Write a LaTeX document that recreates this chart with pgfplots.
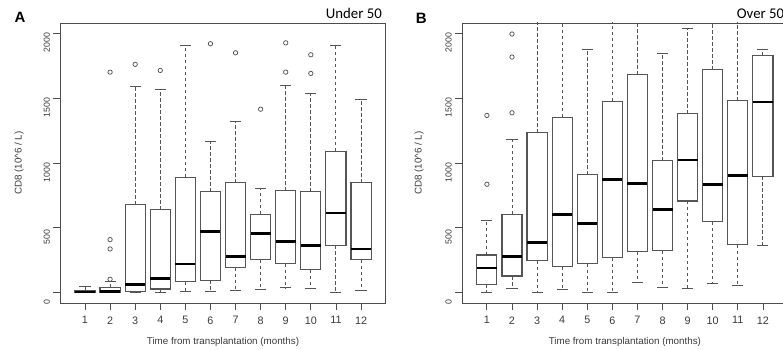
\documentclass[border=0pt]{standalone}
\usepackage{pgfplots}
\usepackage{pgfplotstable}
\pgfplotsset{compat=1.18}
\usepackage{fontspec}
\setmainfont{Liberation Sans}
\newfontfamily\calibri{Carlito}
\definecolor{boxc}{HTML}{555555}
\definecolor{txtc}{HTML}{3A3A3A}
% month, lower whisker, lower quartile, median, upper quartile, upper whisker
\pgfplotstableread{
x lw q1 med q3 uw
1 0 0 5 18 49
2 0 2 8 40 88
3 0 8 64 679 1593
4 0 28 110 641 1567
5 8 85 221 890 1904
6 12 95 471 780 1166
7 18 193 278 849 1320
8 25 255 458 605 800
9 36 224 394 785 1598
10 33 178 363 780 1534
11 0 365 615 1089 1907
12 18 255 337 847 1493
}\dataA
\pgfplotstableread{
x lw q1 med q3 uw
1 0 64 190 290 558
2 33 128 278 605 1181
3 0 247 388 1235 2400
4 23 200 605 1351 2400
5 0 224 535 911 1876
6 0 270 872 1477 2400
7 75 314 842 1680 2400
8 38 324 643 1016 1845
9 31 707 1022 1379 2035
10 69 548 834 1719 2400
11 54 370 903 1480 2400
12 365 898 1470 1830 1874
}\dataB
\pgfplotsset{
  panel/.style={
    scale only axis, width=325.2pt, height=280pt,
    xmin=0.02, xmax=12.98, ymin=-80, ymax=2080,
    xtick={1,...,12}, ytick={0,500,1000,1500,2000},
    xtick pos=bottom, ytick pos=left,
    tick align=outside, major tick length=7pt,
    tick style={black!70, line width=0.8pt},
    axis line style={black!70, line width=0.9pt},
    /pgf/number format/assume math mode=true,
    /pgf/number format/1000 sep={},
    xticklabel style={font=\fontsize{10.8}{12}\selectfont, text=txtc, yshift=-3pt},
    yticklabel style={font=\fontsize{8.8}{10}\selectfont, text=txtc, rotate=90, anchor=south, xshift=-9.5pt},
    xlabel={Time from transplantation (months)},
    ylabel={CD8 (10\^{}6 / L)},
    xlabel style={font=\fontsize{9.8}{12}\selectfont, text=txtc, at={(axis description cs:0.5,-0.138)}, anchor=center},
    ylabel style={font=\fontsize{9.8}{12}\selectfont, text=txtc, anchor=center},
  },
  hbar/.style={draw=none, mark=none, forget plot,
    error bars/.cd, x dir=both, x fixed=#1, error mark=none},
  vbar/.style={draw=none, mark=none, forget plot,
    error bars/.cd, y dir=#1, y explicit, error mark=none},
  outl/.style={only marks, mark=o, mark size=2.2pt, mark options={draw=boxc, line width=0.75pt, solid}},
}
\newcommand{\boxes}[1]{%
  % box sides
  \addplot[vbar=plus, error bar style={draw=boxc, line width=1.1pt, line cap=rect}]
    table[x expr=\thisrow{x}-0.4, y=q1, y error expr=\thisrow{q3}-\thisrow{q1}] {#1};
  \addplot[vbar=plus, error bar style={draw=boxc, line width=1.1pt, line cap=rect}]
    table[x expr=\thisrow{x}+0.4, y=q1, y error expr=\thisrow{q3}-\thisrow{q1}] {#1};
  % box top and bottom
  \addplot[hbar=0.4, error bar style={draw=boxc, line width=1.1pt, line cap=rect}]
    table[x=x, y=q1] {#1};
  \addplot[hbar=0.4, error bar style={draw=boxc, line width=1.1pt, line cap=rect}]
    table[x=x, y=q3] {#1};
  % whiskers
  \addplot[vbar=plus, error bar style={draw=boxc, line width=0.9pt, dash pattern=on 3.5pt off 2.5pt}]
    table[x=x, y=q3, y error expr=\thisrow{uw}-\thisrow{q3}] {#1};
  \addplot[vbar=minus, error bar style={draw=boxc, line width=0.9pt, dash pattern=on 3.5pt off 2.5pt}]
    table[x=x, y=q1, y error expr=\thisrow{q1}-\thisrow{lw}] {#1};
  % caps
  \addplot[hbar=0.22, error bar style={draw=boxc, line width=1pt}]
    table[x=x, y=uw] {#1};
  \addplot[hbar=0.22, error bar style={draw=boxc, line width=1pt}]
    table[x=x, y=lw] {#1};
  % medians
  \addplot[hbar=0.4, error bar style={draw=black, line width=2.6pt}]
    table[x=x, y=med] {#1};
}
\begin{document}
\begin{tikzpicture}
\begin{axis}[panel, at={(60.4pt,47pt)}, anchor=south west,
  ylabel style={at={(axis description cs:-0.127,0.5)}}]
\boxes{\dataA}
\addplot[outl] coordinates {(2,103) (2,337) (2,409) (2,1701) (3,1761) (4,1714)
  (6,1920) (7,1850) (8,1415) (9,1701) (9,1927) (10,1691) (10,1835)};
\end{axis}
\begin{axis}[panel, at={(462.3pt,47pt)}, anchor=south west,
  ylabel style={at={(axis description cs:-0.133,0.5)}}]
\boxes{\dataB}
\addplot[outl] coordinates {(1,836) (1,1367) (2,1387) (2,1817) (2,1995)};
\end{axis}
\node[anchor=base, font=\fontsize{15}{16}\selectfont\bfseries] at (20pt,327pt) {A};
\node[anchor=base, font=\fontsize{15}{16}\selectfont\bfseries] at (421.3pt,326pt) {B};
\node[anchor=base east, inner sep=0pt, font=\calibri\fontsize{14.8}{16}\selectfont] at (382pt,331.5pt) {Under 50};
\node[anchor=base west, inner sep=0pt, font=\calibri\fontsize{14.8}{16}\selectfont] at (736.7pt,331.5pt) {Over 50};
\pgfresetboundingbox
\path[use as bounding box] (0,0) rectangle (783pt,350pt);
\end{tikzpicture}
\end{document}
